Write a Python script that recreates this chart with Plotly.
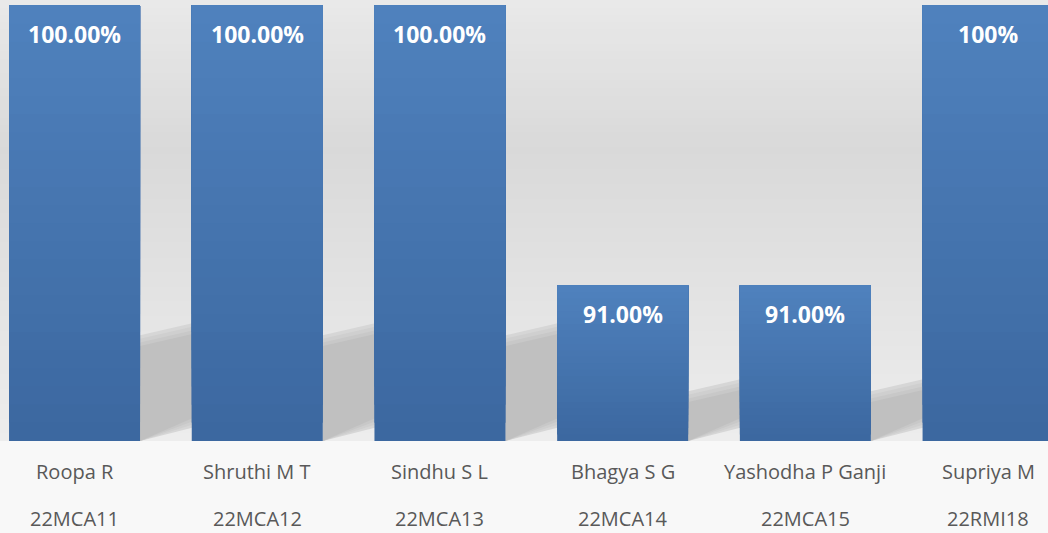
import plotly.graph_objects as go

# data
names = ["Roopa R", "Shruthi M T", "Sindhu S L", "Bhagya S G", "Yashodha P Ganji", "Supriya M"]
ids = ["22MCA11", "22MCA12", "22MCA13", "22MCA14", "22MCA15", "22RMI18"]
scores = [100, 100, 100, 91, 91, 100]
score_labels = ["100.00%", "100.00%", "100.00%", "91.00%", "91.00%", "100%"]

Y_BASE = 86
Y_TOP = 100.175
BAR_WIDTH = 0.717
FONT = "Open Sans"
BAR_TOP = (79, 129, 189)
BAR_BOTTOM = (60, 104, 160)


def mix(c1, c2, t):
    r, g, b = (round(a + (b_ - a) * t) for a, b_ in zip(c1, c2))
    return f"rgb({r},{g},{b})"


def grey(v):
    v = round(v)
    return f"rgb({v},{v},{v})"


fig = go.Figure()

# bars drawn as stacked gradient slices (dark bottom -> light top)
n_slices = 24
xs = list(range(len(names)))
for k in range(n_slices):
    bases = [Y_BASE + (v - Y_BASE) * k / n_slices for v in scores]
    fig.add_trace(go.Bar(
        x=xs,
        y=[v - b for v, b in zip(scores, bases)],
        base=bases,
        width=BAR_WIDTH,
        marker={"color": mix(BAR_BOTTOM, BAR_TOP, k / (n_slices - 1)), "line": {"width": 0}},
        hoverinfo="skip",
        showlegend=False,
    ))

shapes = []

# background wall gradient
bands = 60
for i in range(bands):
    f0 = i / bands
    f1 = (i + 1) / bands
    mid = 1 - (f0 + f1) / 2  # distance from top, 0..1
    if mid < 0.34:
        c = 233 + (217 - 233) * mid / 0.34
    else:
        c = 217 + (237 - 217) * (mid - 0.34) / 0.66
    shapes.append(dict(type="rect", xref="paper", yref="paper", x0=0, x1=1,
                       y0=f0, y1=f1 + 0.002, fillcolor=grey(c), line_width=0,
                       layer="below"))

# soft perspective shadows behind each bar
for i, v in enumerate(scores):
    h = v - Y_BASE
    xl = i + BAR_WIDTH / 2
    xr = i + 1 - BAR_WIDTH / 2 + 0.05
    top_l = Y_BASE + 0.2 * h + 0.25
    for grow, col in [(0.35, 214), (0.24, 207), (0.12, 200), (0.0, 192)]:
        path = (f"M {xl},{Y_BASE} L {xl},{top_l + grow} "
                f"L {xr},{top_l + 0.45 + grow} L {xr},{Y_BASE + 0.85 - grow} Z")
        shapes.append(dict(type="path", xref="x", yref="y", path=path,
                           fillcolor=grey(col), line_width=0, layer="below"))

annotations = []
for i, (v, lab) in enumerate(zip(scores, score_labels)):
    annotations.append(dict(x=i, y=v, xref="x", yref="y", text=f"<b>{lab}</b>",
                            showarrow=False, yanchor="middle", yshift=-29,
                            font={"family": FONT, "size": 23, "color": "white"}))
for i, (nm, sid) in enumerate(zip(names, ids)):
    annotations.append(dict(x=i, y=0, xref="x", yref="paper", text=nm,
                            showarrow=False, yanchor="middle", yshift=-30,
                            font={"family": FONT, "size": 20, "color": "#595959"}))
    annotations.append(dict(x=i, y=0, xref="x", yref="paper", text=sid,
                            showarrow=False, yanchor="middle", yshift=-77,
                            font={"family": FONT, "size": 20, "color": "#595959"}))

fig.update_layout(
    width=1048,
    height=533,
    margin={"l": 0, "r": 0, "t": 0, "b": 92},
    barmode="overlay",
    paper_bgcolor="#f8f8f8",
    plot_bgcolor="rgba(0,0,0,0)",
    showlegend=False,
    xaxis={"range": [-0.408, 5.328], "showticklabels": False, "showgrid": False,
           "zeroline": False, "fixedrange": True},
    yaxis={"range": [Y_BASE, Y_TOP], "showticklabels": False, "showgrid": False,
           "zeroline": False, "fixedrange": True},
    shapes=shapes,
    annotations=annotations,
)

fig.write_html("out.html", post_script="document.body.style.margin='0';",
               config={"displayModeBar": False})
